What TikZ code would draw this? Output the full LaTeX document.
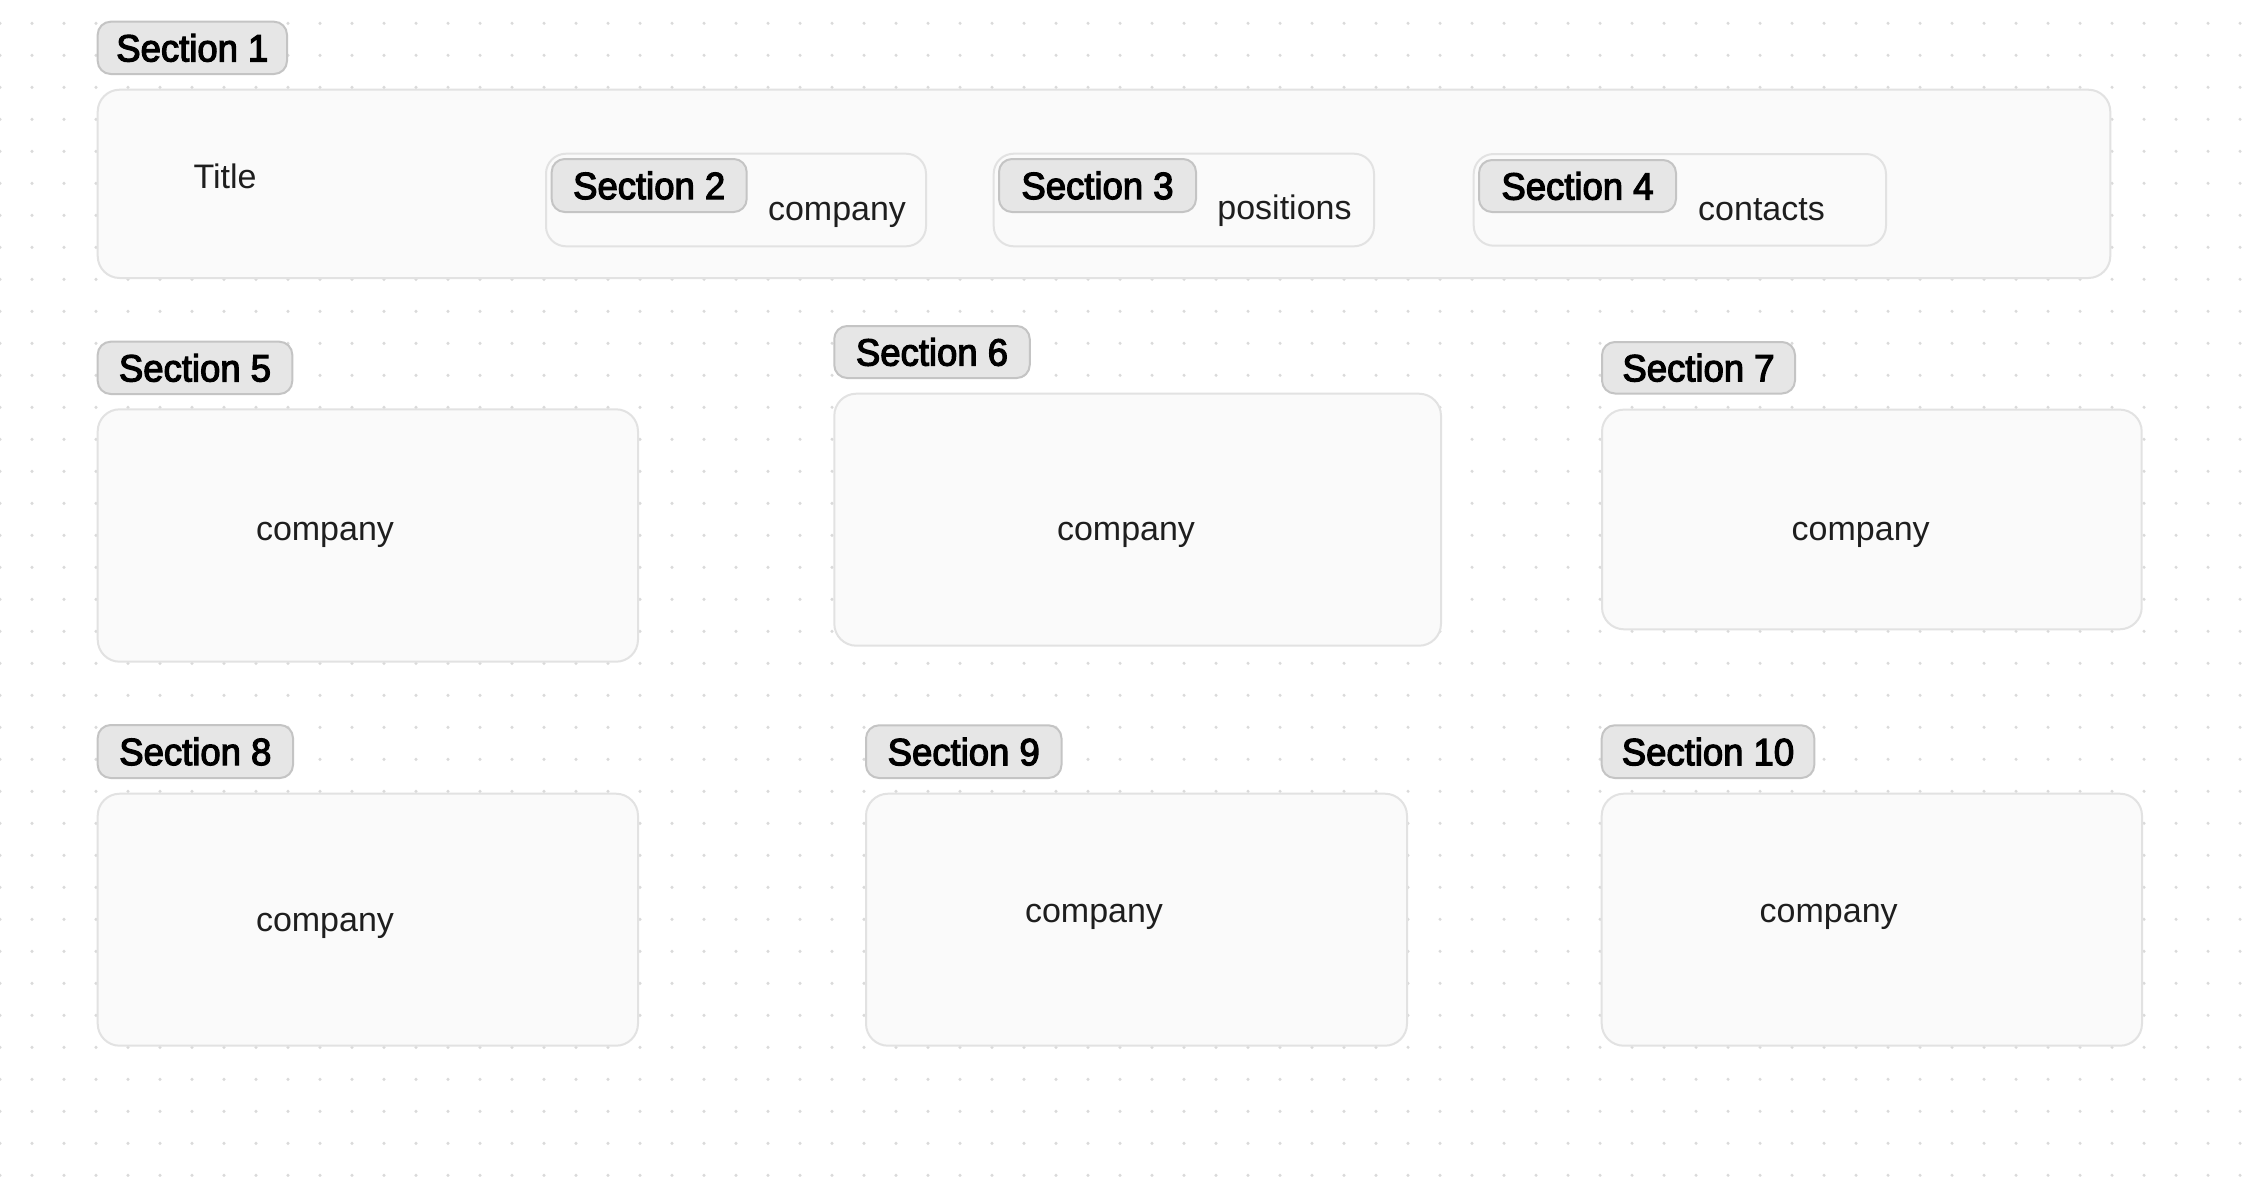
\documentclass[tikz,border=0pt]{standalone}
\usepackage{fontspec}
\setmainfont{Liberation Sans}
\newfontfamily\lblfont[FakeBold=3.2, FakeStretch=0.96]{Liberation Sans}
\definecolor{lblfill}{HTML}{E6E6E6}
\definecolor{lblborder}{HTML}{C4C4C4}
\definecolor{panelfill}{HTML}{FAFAFA}
\definecolor{panelborder}{HTML}{E2E2E2}
\definecolor{dotc}{HTML}{DADADA}
\definecolor{txtc}{HTML}{1E1E1E}
\tikzset{
  lbl/.style={draw=lblborder, line width=2pt, fill=lblfill, rounded corners=13pt,
    inner sep=0pt, font=\lblfont\fontsize{38}{42}\selectfont, text=black},
  panel/.style={draw=panelborder, line width=2pt, fill=panelfill, rounded corners=22pt, inner sep=0pt},
  subpanel/.style={panel, rounded corners=20pt},
  txt/.style={font=\fontsize{34}{40}\selectfont, text=txtc, anchor=base, inner sep=0pt},
}
\begin{document}
\begin{tikzpicture}[x=1pt,y=-1pt]
\useasboundingbox (0,0) rectangle (2252,1176);
\fill[white] (0,0) rectangle (2252,1176);
% dot grid
\fill[dotc] \foreach \i in {0,...,70} { \foreach \j in {0,...,36} { (\i*32, 23.3+\j*32) circle (1.7) } };
% panels
\node[panel, minimum width=2012.6pt, minimum height=188.3pt] (b1) at (1104, 183.85) {};
\node[subpanel, minimum width=380pt, minimum height=92.6pt] (b2) at (736, 200) {};
\node[subpanel, minimum width=380.3pt, minimum height=92.6pt] (b3) at (1183.85, 200) {};
\node[subpanel, minimum width=412.3pt, minimum height=91.7pt] (b4) at (1679.85, 199.85) {};
\node[panel, minimum width=540.3pt, minimum height=252.4pt] (b5) at (367.85, 535.5) {};
\node[panel, minimum width=606.7pt, minimum height=252pt] (b6) at (1137.65, 519.7) {};
\node[panel, minimum width=539.7pt, minimum height=219.7pt] (b7) at (1871.85, 519.45) {};
\node[panel, minimum width=540.3pt, minimum height=252pt] (b8) at (367.85, 919.7) {};
\node[panel, minimum width=541pt, minimum height=252pt] (b9) at (1136.5, 919.7) {};
\node[panel, minimum width=540.3pt, minimum height=252pt] (b10) at (1871.85, 919.7) {};
% labels
\node[lbl, minimum width=189.3pt, minimum height=52.3pt] (l1) at (192.35, 47.85) {Section 1};
\node[lbl, minimum width=195pt, minimum height=53pt] (l2) at (649.2, 185.5) {Section 2};
\node[lbl, minimum width=197pt, minimum height=53pt] (l3) at (1097.5, 185.5) {Section 3};
\node[lbl, minimum width=197pt, minimum height=52pt] (l4) at (1577.5, 186) {Section 4};
\node[lbl, minimum width=194.6pt, minimum height=52.3pt] (l5) at (195, 367.85) {Section 5};
\node[lbl, minimum width=195.5pt, minimum height=52pt] (l6) at (932, 352) {Section 6};
\node[lbl, minimum width=193pt, minimum height=51.5pt] (l7) at (1698.5, 367.75) {Section 7};
\node[lbl, minimum width=195.3pt, minimum height=53pt] (l8) at (195.35, 751.5) {Section 8};
\node[lbl, minimum width=195.5pt, minimum height=52.7pt] (l9) at (963.75, 751.65) {Section 9};
\node[lbl, minimum width=212.6pt, minimum height=52.7pt] (l10) at (1708, 751.65) {Section 10};
% texts
\node[txt] (title) at (225, 188) {Title};
\node[txt] (t2) at (837, 220) {company};
\node[txt] (t3) at (1284.5, 219.5) {positions};
\node[txt] (t4) at (1761.5, 220) {contacts};
\node[txt] (t5) at (325, 540) {company};
\node[txt] (t6) at (1126, 540) {company};
\node[txt] (t7) at (1860.7, 540) {company};
\node[txt] (t8) at (325, 931.7) {company};
\node[txt] (t9) at (1094, 922.7) {company};
\node[txt] (t10) at (1828.7, 922.7) {company};
\end{tikzpicture}
\end{document}
